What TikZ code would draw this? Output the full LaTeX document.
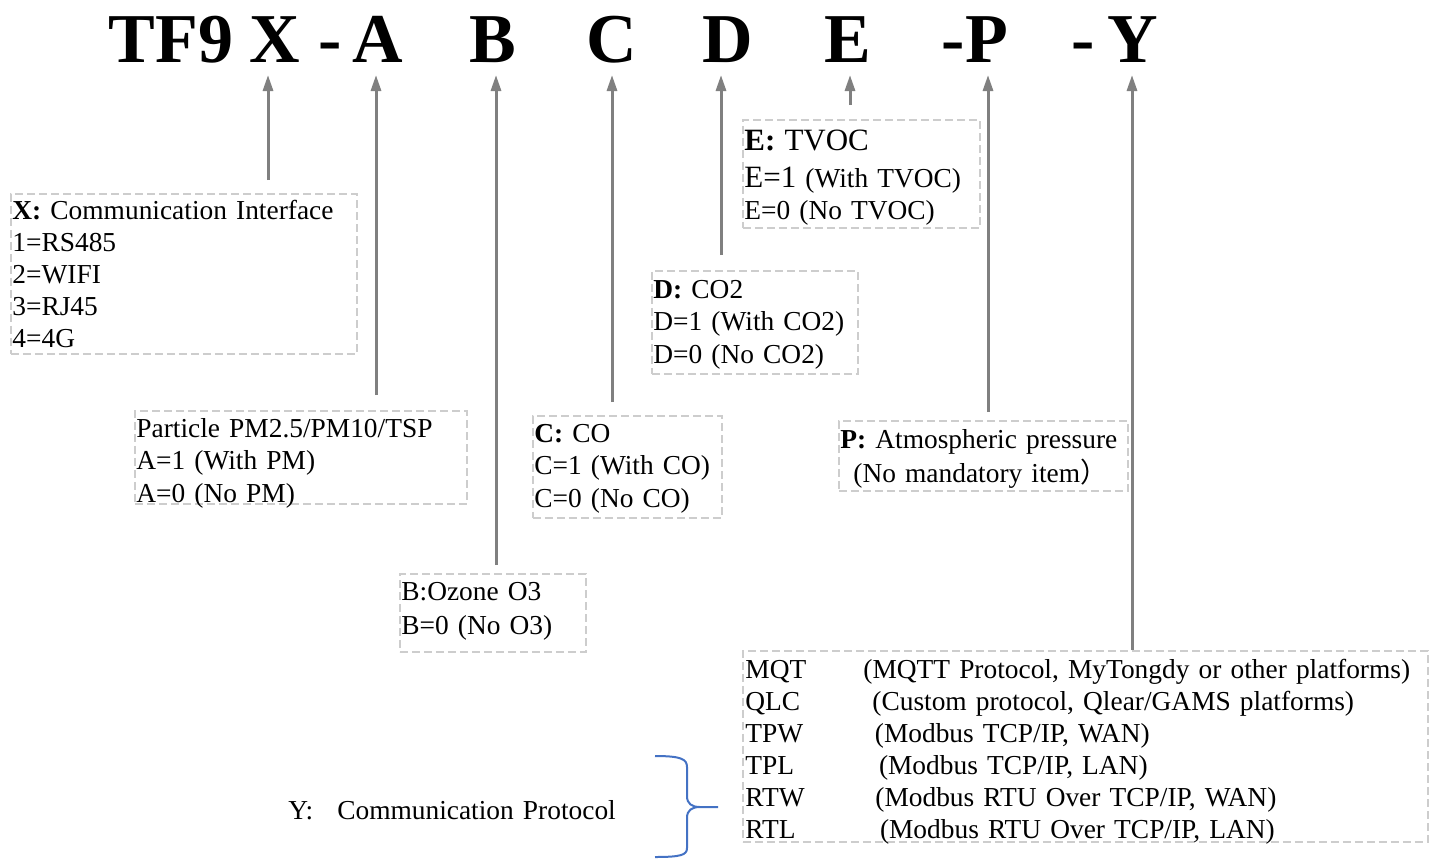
\documentclass[tikz,border=0pt]{standalone}
\usepackage{fontspec}
\setmainfont{Liberation Serif}
\newfontfamily\cjk{Noto Sans CJK SC}
\usetikzlibrary{arrows.meta, positioning}
\definecolor{pointergray}{RGB}{128,128,128}
\definecolor{boxgray}{RGB}{205,205,205}
\definecolor{braceblue}{RGB}{68,114,196}
\tikzset{
  code/.style={
    font=\fontsize{35}{35}\selectfont\bfseries,
    inner sep=0pt,
    anchor=base
  },
  optbox/.style={
    rectangle,
    draw=boxgray,
    dash pattern=on 4pt off 2pt,
    line width=0.8pt,
    anchor=north west,
    inner sep=0pt
  },
  opttext/.style={
    anchor=base west,
    align=left,
    inner sep=0pt,
    text width=345pt,
    font=\fontsize{13.7}{16.3}\selectfont
  },
  pointer/.style={
    -{Triangle[length=8pt, width=5pt]},
    draw=pointergray,
    line width=1.5pt
  },
  bracket/.style={
    draw=braceblue,
    line width=1pt
  }
}

\begin{document}
\begin{tikzpicture}[x=0.5pt, y=-0.5pt]
    \useasboundingbox (0,0) rectangle (1432,859);

    % model code
    \node[code] (tTF) at (171,62) {TF9};
    \node[code] (tX) at (275,62) {X};
    \node[code] (tdash1) at (330,62) {-};
    \node[code] (tA) at (378,62) {A};
    \node[code] (tB) at (493,62) {B};
    \node[code] (tC) at (612,62) {C};
    \node[code] (tD) at (728,62) {D};
    \node[code] (tE) at (848,62) {E};
    \node[code] (tdash2) at (953,62) {-};
    \node[code] (tP) at (987,62) {P};
    \node[code] (tdash3) at (1083,62) {-};
    \node[code] (tY) at (1133,62) {Y};

    % arrow tips below the code letters
    \coordinate (hX) at (268,75);
    \coordinate (hA) at (376,75);
    \coordinate (hB) at (496,75);
    \coordinate (hC) at (612,75);
    \coordinate (hD) at (721,75);
    \coordinate (hE) at (850,75);
    \coordinate (hP) at (988,75);
    \coordinate (hY) at (1132,75);

    % option boxes
    \node[optbox, minimum width=173pt, minimum height=80pt] (boxX) at (10,193) {};
    \node[opttext, font=\fontsize{13.7}{16}\selectfont] (txtX) at (12,219)
        {\textbf{X:} Communication Interface\\1=RS485\\2=WIFI\\3=RJ45\\4=4G};

    \node[optbox, minimum width=166pt, minimum height=46.5pt] (boxA) at (134,410) {};
    \node[opttext] (txtA) at (136,437)
        {Particle PM2.5/PM10/TSP\\A=1 (With PM)\\A=0 (No PM)};

    \node[optbox, minimum width=93pt, minimum height=39pt] (boxB) at (399,573) {};
    \node[opttext, font=\fontsize{13.7}{17}\selectfont] (txtB) at (401,600)
        {B:Ozone O3\\B=0 (No O3)};

    \node[optbox, minimum width=94.5pt, minimum height=51pt] (boxC) at (532,415) {};
    \node[opttext] (txtC) at (534,442)
        {\textbf{C:} CO\\C=1 (With CO)\\C=0 (No CO)};

    \node[optbox, minimum width=103pt, minimum height=51.5pt] (boxD) at (651,270) {};
    \node[opttext] (txtD) at (653,298)
        {\textbf{D:} CO2\\D=1 (With CO2)\\D=0 (No CO2)};

    \node[optbox, minimum width=118.5pt, minimum height=54pt] (boxE) at (742,119) {};
    \node[opttext] (txtE) at (744,150)
        {{\fontsize{15.5}{18}\selectfont\textbf{E:} TVOC}\\[2.3pt]
         {\fontsize{15.5}{18}\selectfont E=1} (With TVOC)\\E=0 (No TVOC)};

    \node[optbox, minimum width=144.5pt, minimum height=35pt] (boxP) at (838,420) {};
    \node[opttext, font=\fontsize{13.7}{17}\selectfont] (txtP) at (840,448)
        {\textbf{P:} Atmospheric pressure\\\hspace*{6.5pt}(No mandatory item{\cjk ）}};

    \node[optbox, minimum width=342.5pt, minimum height=95.5pt] (boxY) at (742,650) {};
    \node[opttext, font=\fontsize{13.7}{16}\selectfont] (txtY) at (745,678)
        {\makebox[59pt][l]{MQT}(MQTT Protocol, MyTongdy or other platforms)\\
         \makebox[63.5pt][l]{QLC}(Custom protocol, Qlear/GAMS platforms)\\
         \makebox[64.75pt][l]{TPW}(Modbus TCP/IP, WAN)\\
         \makebox[66.8pt][l]{TPL}(Modbus TCP/IP, LAN)\\
         \makebox[65pt][l]{RTW}(Modbus RTU Over TCP/IP, WAN)\\
         \makebox[67.3pt][l]{RTL}(Modbus RTU Over TCP/IP, LAN)};

    % protocol label and bracket
    \node[opttext, text width=200pt] (ylabel) at (288,819)
        {Y:\hspace{12pt}Communication Protocol};
    \coordinate (ybtop) at (655,756);
    \coordinate (ybtip) at (718,807);
    \coordinate (ybbot) at (655,857);
    \draw[bracket] (ybtop) .. controls (681,756) and (687,759) .. (687,767)
        -- (687,796) .. controls (687,804) and (692,807) .. (700,807) -- (ybtip)
        -- (700,807) .. controls (692,807) and (687,810) .. (687,818)
        -- (687,848) .. controls (687,855) and (681,857) .. (ybbot);

    \draw[pointer, shorten <=6.5pt] (boxX.north -| hX) -- (hX);
    \draw[pointer, shorten <=7.5pt] (boxA.north -| hA) -- (hA);
    \draw[pointer, shorten <=4pt] (boxB.north -| hB) -- (hB);
    \draw[pointer, shorten <=6.5pt] (boxC.north -| hC) -- (hC);
    \draw[pointer, shorten <=7.5pt] (boxD.north -| hD) -- (hD);
    \draw[pointer, shorten <=7pt] (boxE.north -| hE) -- (hE);
    \draw[pointer, shorten <=4pt] (boxP.north -| hP) -- (hP);
    \draw[pointer] (boxY.north -| hY) -- (hY);
\end{tikzpicture}
\end{document}
